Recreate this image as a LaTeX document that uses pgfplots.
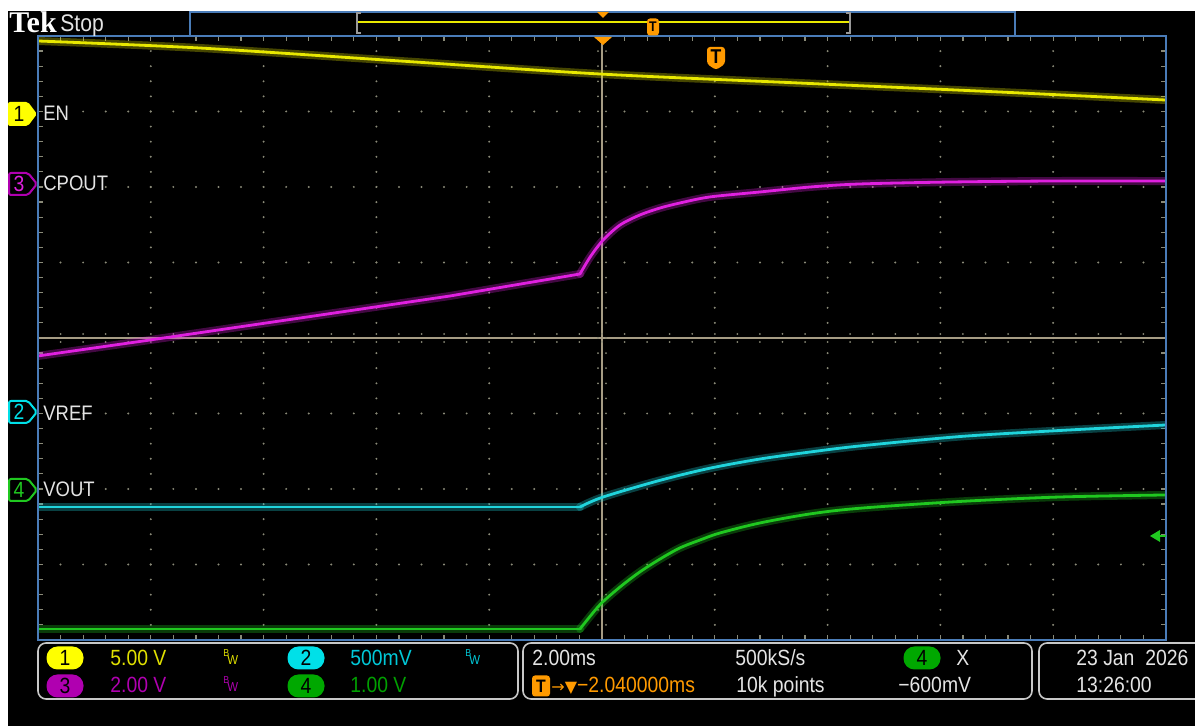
\documentclass[border=0pt]{standalone}
\usepackage{pgfplots}
\pgfplotsset{compat=1.18}
\usepackage{pgfplotstable}
\usepackage{fontspec}
\setmainfont{Liberation Sans}[FakeStretch=0.88]
\newfontfamily\tekfont{Liberation Serif}
\newfontfamily\symfont{DejaVu Sans}

\definecolor{gridc}{HTML}{8A8A78}
\definecolor{crossc}{HTML}{A69C84}
\definecolor{framec}{HTML}{4A7CB8}
\definecolor{boxc}{HTML}{C8C8C8}
\definecolor{labelc}{HTML}{E4E4E4}
\definecolor{orangec}{HTML}{FF9A00}
\definecolor{ytrace}{HTML}{E8E800}
\definecolor{mtrace}{HTML}{E020E0}
\definecolor{ctrace}{HTML}{20D4DC}
\definecolor{gtrace}{HTML}{20C820}
\definecolor{ypill}{HTML}{FFFF00}
\definecolor{mpill}{HTML}{B000B0}
\definecolor{cpill}{HTML}{00E0E8}
\definecolor{gpill}{HTML}{00A800}
\definecolor{ytext}{HTML}{E0E000}
\definecolor{mtext}{HTML}{B000B0}
\definecolor{ctext}{HTML}{00C8D8}
\definecolor{gtext}{HTML}{00A000}

% time in ms (2 ms/div), level in divisions from screen centre
\pgfplotstableread{
t d
-10 3.934
-7.13 3.841
-3.58 3.669
-0.04 3.497
3.51 3.377
7.06 3.258
10 3.152
}\chone
\pgfplotstableread{
t d
-10 -0.238
-8.01 -0.026
-5.35 0.265
-2.70 0.556
-0.39 0.848
-0.21 1.073
0.02 1.298
0.32 1.497
0.67 1.629
1.03 1.722
1.38 1.788
1.91 1.868
2.80 1.934
3.69 2.000
4.57 2.040
6.17 2.066
7.94 2.079
10 2.079
}\chthree
\pgfplotstableread{
t d
-10 -2.238
-0.39 -2.238
0.02 -2.106
1.03 -1.885
1.91 -1.725
2.80 -1.603
3.69 -1.510
4.57 -1.430
6.35 -1.305
8.12 -1.225
10 -1.152
}\chtwo
\pgfplotstableread{
t d
-10 -3.854
-0.39 -3.854
-0.04 -3.536
0.32 -3.298
0.67 -3.099
1.03 -2.927
1.38 -2.781
1.74 -2.675
2.09 -2.583
2.80 -2.450
3.69 -2.330
4.57 -2.255
6.35 -2.165
8.12 -2.106
10 -2.079
}\chfour

\tikzset{
  trace/.style={draw=#1, line width=1.4pt, line join=round, line cap=round,
    preaction={draw=#1, draw opacity=0.3, line width=4pt}},
  pill/.style={fill=#1, rounded corners=5.5pt, minimum width=18.5pt,
    minimum height=11.5pt, inner sep=0pt, text=black,
    font=\fontsize{11}{11}\selectfont},
  big/.style={anchor=base west, inner sep=0pt, font=\fontsize{11}{11}\selectfont},
  lab/.style={anchor=base west, inner sep=0pt, text=labelc, font=\fontsize{10.5}{10.5}\selectfont},
  screen/.style={yshift=363pt, x=0.5pt, y=-0.5pt},
}
\newcommand\bw[3]{%
  \node[anchor=base west, inner sep=0pt, text=#3, font=\fontsize{5}{5}\selectfont] at (#1,#2) {B};
  \node[anchor=base west, inner sep=0pt, text=#3, font=\fontsize{6.5}{6.5}\selectfont] at ({#1+4},{#2+8}) {W};}

\begin{document}
\begin{tikzpicture}[x=0.5pt,y=0.5pt]
\begin{scope}[screen]
\fill[white] (0,0) rectangle (1195,726);
\fill[black] (8,11) rectangle (1195,726);

% graticule dots
\foreach \k in {1,2,3,4,6,7,8,9}{
  \foreach \m in {1,...,39}{
    \fill[gridc] ({38+\k*112.8},{36+\m*15.1}) circle[radius=0.55pt];
  }
}
\foreach \j in {1,2,3,5,6,7}{
  \foreach \m in {1,...,49}{
    \fill[gridc] ({38+\m*22.56},{36+\j*75.5}) circle[radius=0.55pt];
  }
}
% edge ticks
\foreach \m in {1,...,49}{
  \draw[gridc, line width=0.6pt] ({38+\m*22.56},36) -- ++(0,5);
  \draw[gridc, line width=0.6pt] ({38+\m*22.56},640) -- ++(0,-5);
}
\foreach \m in {1,...,39}{
  \draw[gridc, line width=0.6pt] (38,{36+\m*15.1}) -- ++(5,0);
  \draw[gridc, line width=0.6pt] (1166,{36+\m*15.1}) -- ++(-5,0);
}
% centre crosshair
\draw[crossc, line width=1pt] (38,338) -- (1166,338);
\draw[crossc, line width=1pt] (602,36) -- (602,640);
\foreach \m in {1,...,49}{
  \fill[gridc] ({38+\m*22.56},334) circle[radius=0.5pt];
  \fill[gridc] ({38+\m*22.56},342) circle[radius=0.5pt];
}
\foreach \m in {1,...,39}{
  \fill[gridc] (598,{36+\m*15.1}) circle[radius=0.5pt];
  \fill[gridc] (606,{36+\m*15.1}) circle[radius=0.5pt];
}
\end{scope}

\begin{axis}[at={(19pt,43pt)}, anchor=south west, scale only axis,
  width=564pt, height=302pt, xmin=-10, xmax=10, ymin=-4, ymax=4,
  hide axis]
\addplot[trace=ytrace, smooth] table[x=t, y=d] {\chone};
% before the knee: straight; after it: smooth
\addplot[trace=mtrace, restrict x to domain=-10:-0.38] table[x=t, y=d] {\chthree};
\addplot[trace=mtrace, smooth, tension=0.5, restrict x to domain=-0.4:10] table[x=t, y=d] {\chthree};
\addplot[trace=ctrace, restrict x to domain=-10:-0.38] table[x=t, y=d] {\chtwo};
\addplot[trace=ctrace, smooth, tension=0.5, restrict x to domain=-0.4:10] table[x=t, y=d] {\chtwo};
\addplot[trace=gtrace, restrict x to domain=-10:-0.38] table[x=t, y=d] {\chfour};
\addplot[trace=gtrace, smooth, tension=0.5, restrict x to domain=-0.4:10] table[x=t, y=d] {\chfour};
\end{axis}

\begin{scope}[screen]
% frame
\draw[framec, line width=1pt] (38,36) rectangle (1166,640);

% top status / record view
\node[anchor=base west, inner sep=0pt, text=white, font=\tekfont\bfseries\fontsize{15}{15}\selectfont] at (9,33) {Tek};
\node[anchor=base west, inner sep=0pt, text=labelc, font=\fontsize{12}{12}\selectfont] at (60,32) {Stop};
\draw[framec, line width=1pt] (190,12) rectangle (1015,36);
\draw[ytrace, line width=0.8pt] (357,22) -- (850,22);
\draw[gray!80, line width=1.3pt] (361,13) -- (357,13) -- (357,33) -- (361,33);
\draw[gray!80, line width=1.3pt] (846,13) -- (850,13) -- (850,33) -- (846,33);
\fill[orangec] (597,12) -- (609,12) -- (603,18) -- cycle;
\node[fill=orangec, rounded corners=1.5pt, inner sep=0pt, minimum width=6pt, minimum height=8.5pt,
  text=black, font=\bfseries\fontsize{7}{7}\selectfont] at (653,27) {T};
\fill[orangec] (594,37) -- (612,37) -- (603,45) -- cycle;
\fill[orangec, rounded corners=1.5pt] (707,47) -- (725,47) -- (725,64) -- (716,70) -- (707,64) -- cycle;
\node[text=black, inner sep=0pt, font=\bfseries\fontsize{10}{10}\selectfont] at (716,57) {T};

% trigger level arrow
\fill[gtrace] (1150,536) -- (1160,530) -- (1160,542) -- cycle;
\draw[gtrace, line width=1pt] (1158,536) -- (1166,536);

% channel markers and labels
\fill[ypill, rounded corners=1pt] (8,102) -- (28,102) -- (37,114) -- (28,126) -- (8,126) -- cycle;
\node[text=black, inner sep=0pt, font=\fontsize{11}{11}\selectfont] at (19,114) {1};
\draw[mpill, line width=1pt, fill=black, rounded corners=1pt] (9,173) -- (28,173) -- (37,184) -- (28,195) -- (9,195) -- cycle;
\node[text=mtrace, inner sep=0pt, font=\fontsize{11}{11}\selectfont] at (19,184) {3};
\draw[cpill, line width=1pt, fill=black, rounded corners=1pt] (9,401) -- (28,401) -- (37,412) -- (28,423) -- (9,423) -- cycle;
\node[text=cpill, inner sep=0pt, font=\fontsize{11}{11}\selectfont] at (19,412) {2};
\draw[gtrace, line width=1pt, fill=black, rounded corners=1pt] (9,479) -- (28,479) -- (37,490) -- (28,501) -- (9,501) -- cycle;
\node[text=gtrace, inner sep=0pt, font=\fontsize{11}{11}\selectfont] at (19,490) {4};
\node[lab] at (43,121) {EN};
\node[lab] at (43,191) {CPOUT};
\node[lab] at (43,421) {VREF};
\node[lab] at (43,497) {VOUT};

% bottom readouts
\draw[boxc, line width=0.8pt, rounded corners=4pt] (38,643) rectangle (518,699);
\draw[boxc, line width=0.8pt, rounded corners=4pt] (523,643) rectangle (1032,699);
\draw[boxc, line width=0.8pt, rounded corners=4pt] (1039,643) rectangle (1215,699);

\node[pill=ypill] at (65,658) {1};
\node[pill=mpill] at (65,686) {3};
\node[pill=cpill] at (306,658) {2};
\node[pill=gpill] at (306,686) {4};
\node[big, text=ytext] at (110,666) {5.00 V};
\node[big, text=mtext] at (110,693) {2.00 V};
\node[big, text=ctext] at (350,666) {500mV};
\node[big, text=gtext] at (350,693) {1.00 V};
\bw{223}{657}{ytext}
\bw{223}{684}{mtext}
\bw{465}{657}{ctext}

\node[big, text=labelc] at (532,666) {2.00ms};
\node[big, text=labelc] at (735,666) {500kS/s};
\node[pill=gpill] at (922,658) {4};
\node[big, text=labelc] at (956,666) {X};
\node[fill=orangec, rounded corners=1.5pt, inner sep=0pt, minimum width=9pt, minimum height=10.5pt,
  text=black, font=\bfseries\fontsize{9}{9}\selectfont] at (541,686) {T};
\node[big, text=orangec] at (551,693) {{\symfont\fontsize{8}{8}\selectfont →▼}−2.040000ms};
\node[big, text=labelc] at (736,693) {10k points};
\node[big, text=labelc] at (898,693) {−600mV};
\node[big, text=labelc] at (1076,666) {23 Jan\ \ 2026};
\node[big, text=labelc] at (1076,693) {13:26:00};
\end{scope}
\pgfresetboundingbox
\path[use as bounding box] (0,0) rectangle (1195,726);
\end{tikzpicture}
\end{document}
